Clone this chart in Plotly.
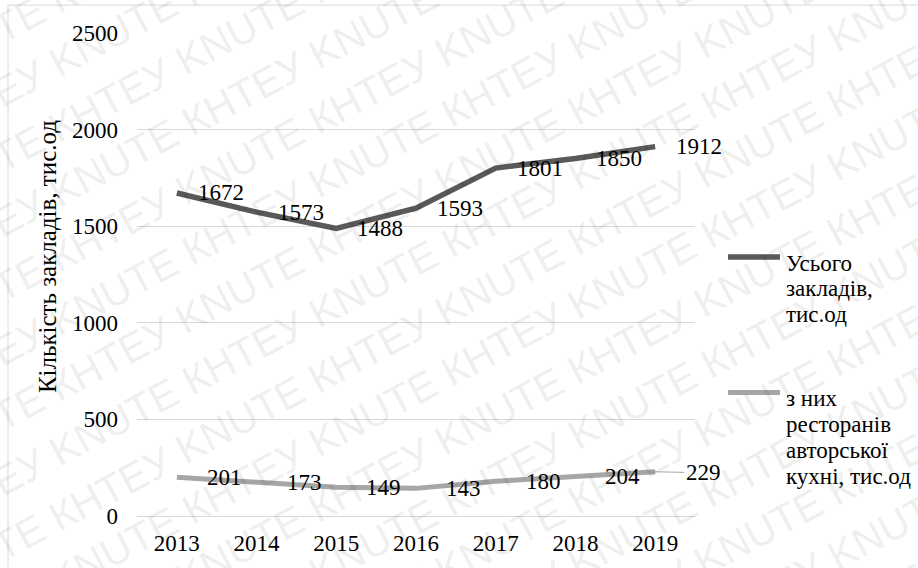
import math
import plotly.graph_objects as go

# ---- data -------------------------------------------------------------
years = ["2013", "2014", "2015", "2016", "2017", "2018", "2019"]
total_venues = [1672, 1573, 1488, 1593, 1801, 1850, 1912]
author_cuisine = [201, 173, 149, 143, 180, 204, 229]
y_ticks = [0, 500, 1000, 1500, 2000, 2500]
series_names = [
    ["Усього", "закладів,", "тис.од"],
    ["з них", "ресторанів", "авторської", "кухні, тис.од"],
]
series_colors = ["#595959", "#a6a6a6"]
series_widths = [5.5, 5]
y_title = "Кількість закладів, тис.од"
watermark_words = ["КНТЕУ", "KNUTE"]

# ---- geometry ---------------------------------------------------------
W, H = 918, 568
ML, MR, MT, MB = 137, 223, 33, 50
PW, PH = W - ML - MR, H - MT - MB
SERIF = "Liberation Serif, Times New Roman, DejaVu Serif, serif"


def to_paper(px, py):
    return (px - ML) / PW, (H - MB - py) / PH


fig = go.Figure()
for vals, name, col, lw in zip([total_venues, author_cuisine], series_names,
                               series_colors, series_widths):
    fig.add_trace(go.Scatter(
        x=years, y=vals, mode="lines", name=" ".join(name),
        line=dict(color=col, width=lw), showlegend=False,
    ))

annotations = []
shapes = []

# ---- diagonal watermark ----------------------------------------------
ang = math.radians(28)
dx, dy = math.cos(ang), -math.sin(ang)      # along the text
nx, ny = -math.sin(ang), -math.cos(ang)     # "up" from the baseline
period = 286.0                               # one word pair plus spaces
row_gap = 65.0
reps = 7
row_text = ((" ".join(watermark_words) + " ") * reps).strip()
row_len = reps * period - 11
for k in range(-9, 10):
    bx, by = 320.0, 392.0 + k * row_gap
    phase = k * period / 2.0
    start = phase - math.ceil((bx + phase * dx + 420) / (period * dx)) * period
    sx, sy = bx + start * dx, by + start * dy
    cx = sx + row_len / 2 * dx + 12 * nx
    cy = sy + row_len / 2 * dy + 12 * ny
    xp, yp = to_paper(cx, cy)
    annotations.append(dict(
        x=xp, y=yp, xref="paper", yref="paper", showarrow=False,
        xanchor="center", yanchor="middle",
        text=row_text, textangle=-28,
        font=dict(family="Liberation Sans, Arial, sans-serif", size=41,
                  color="rgba(0,0,0,0.085)"),
    ))

# ---- value labels (to the right of each point) -----------------------
label_font = dict(family=SERIF, size=23, color="#000000")
for i, v in enumerate(total_venues):
    annotations.append(dict(
        x=i, y=v, xref="x", yref="y", text=str(v), showarrow=False,
        xanchor="left", yanchor="middle", xshift=19, font=label_font,
    ))
for i, v in enumerate(author_cuisine):
    if i == len(author_cuisine) - 1:
        # last label sits a little further out with a leader line
        annotations.append(dict(
            x=i, y=v, xref="x", yref="y", text=str(v), showarrow=True,
            ax=48, ay=1, arrowhead=0, arrowwidth=1, arrowcolor="#a6a6a6",
            standoff=0, font=label_font,
        ))
    else:
        annotations.append(dict(
            x=i, y=v, xref="x", yref="y", text=str(v), showarrow=False,
            xanchor="left", yanchor="middle", xshift=28, font=label_font,
        ))

# ---- legend (sample line + wrapped text) ------------------------------
legend_font = dict(family=SERIF, size=23, color="#000000")
legend_tops = [258, 394]
line_step = 26
for top, name, col, lw in zip(legend_tops, series_names, series_colors,
                              series_widths):
    x0, y0 = to_paper(728, top)
    x1, _ = to_paper(780, top)
    shapes.append(dict(type="line", xref="paper", yref="paper",
                       x0=x0, x1=x1, y0=y0, y1=y0,
                       line=dict(color=col, width=lw)))
    for j, part in enumerate(name):
        tx, ty = to_paper(784, top + 6 + j * line_step)
        annotations.append(dict(
            x=tx, y=ty, xref="paper", yref="paper", text=part,
            showarrow=False, xanchor="left", yanchor="middle",
            font=legend_font,
        ))

# ---- y-axis title -----------------------------------------------------
tx, ty = to_paper(47, 258)
annotations.append(dict(
    x=tx, y=ty, xref="paper", yref="paper", text=y_title, showarrow=False,
    textangle=-90, xanchor="center", yanchor="middle",
    font=dict(family=SERIF, size=25, color="#000000"),
))

# ---- chart-area frame --------------------------------------------------
fx0, fy0 = to_paper(8, H + 20)
fx1, fy1 = to_paper(W + 20, 5)
shapes.append(dict(
    type="rect", xref="paper", yref="paper", x0=fx0, y0=fy0, x1=fx1, y1=fy1,
    line=dict(color="#d9d9d9", width=1), fillcolor="rgba(0,0,0,0)",
))

fig.update_layout(
    width=W, height=H,
    margin=dict(l=ML, r=MR, t=MT, b=MB, pad=0),
    paper_bgcolor="white", plot_bgcolor="white",
    font=dict(family=SERIF, size=23, color="#000000"),
    showlegend=False,
    xaxis=dict(
        type="category", categoryorder="array", categoryarray=years,
        range=[-0.5, len(years) - 0.5],
        showgrid=False, zeroline=False, showline=False, ticks="",
        ticklabelstandoff=11,
        tickfont=dict(family=SERIF, size=23, color="#000000"),
    ),
    yaxis=dict(
        range=[0, 2500], tickmode="array", tickvals=y_ticks,
        ticktext=[str(t) for t in y_ticks],
        showgrid=True, gridcolor="#d9d9d9", gridwidth=1,
        zeroline=True, zerolinecolor="#d9d9d9", zerolinewidth=1,
        showline=False, ticks="", ticklabelstandoff=18,
        tickfont=dict(family=SERIF, size=23, color="#000000"),
    ),
    annotations=annotations,
    shapes=shapes,
)

fig.write_html("out.html")
